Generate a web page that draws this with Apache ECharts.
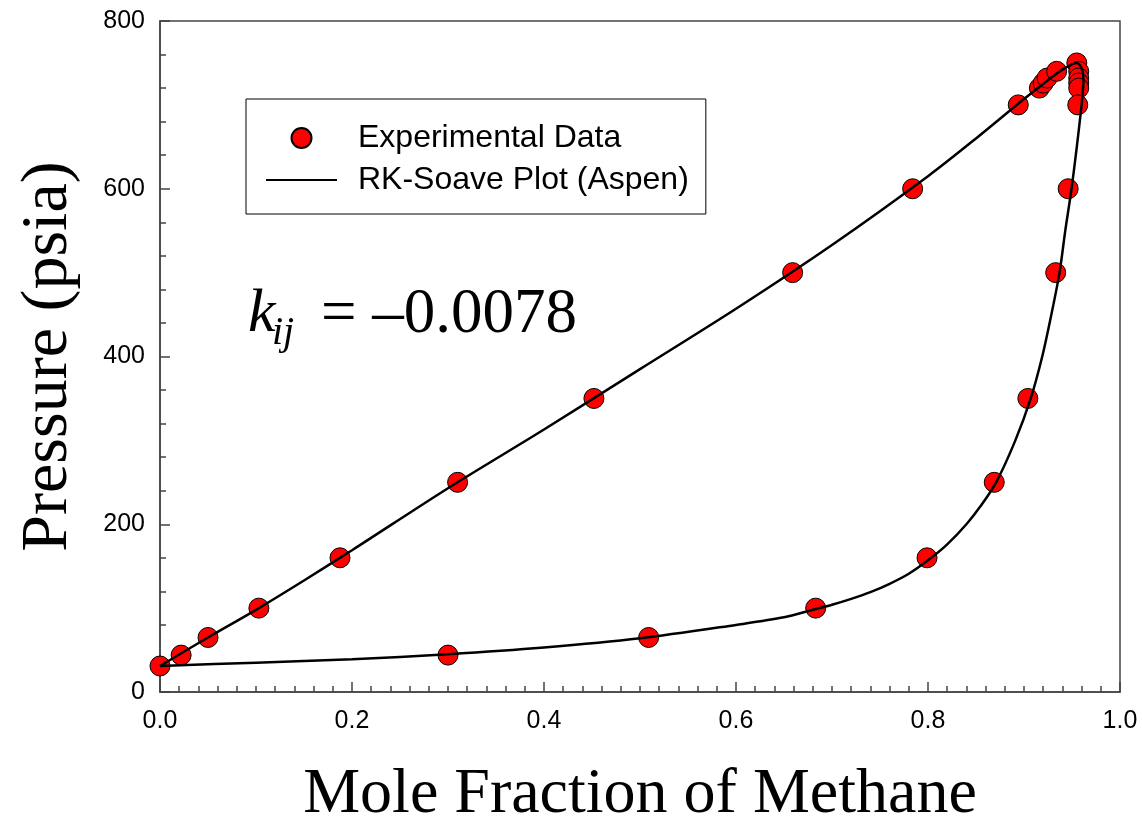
<!DOCTYPE html>
<head>
    <meta charset="utf-8"/>
    <style>
        html,body { height:100%; width:100%; margin:0; padding:0; background:#fff; }
    </style>
</head>
<body>

<div id="chart" style="width: 1142px;height:822px;"></div>

<script src="https://cdn.jsdelivr.net/npm/echarts@6/dist/echarts.min.js"></script>
<script type="text/javascript">

 // experimental points (bubble side then dew side)
 var expX = [0, 0.022, 0.05, 0.103, 0.1875, 0.31, 0.452, 0.659, 0.784, 0.894, 0.916, 0.92, 0.924, 0.934, 0.955,
             0.957, 0.957, 0.957, 0.957, 0.956, 0.946, 0.933, 0.904, 0.869, 0.799, 0.683, 0.509, 0.30];
 var expY = [31, 44, 65, 100, 160, 250, 350, 500, 600, 700, 720, 726, 732, 740, 750,
             740, 732, 726, 720, 700, 600, 500, 350, 250, 160, 100, 65, 44];

 // RK-Soave curve, bubble branch (up to critical point)
 var bubbleX = [0, 0.05, 0.1, 0.15, 0.2, 0.3, 0.4, 0.5, 0.6, 0.7, 0.8, 0.85, 0.9, 0.92, 0.94, 0.955];
 var bubbleY = [31, 65, 98, 133, 169, 243, 313, 385, 457, 533, 615, 660, 707, 725, 742, 750];

 // dew branch (from critical point back down)
 var dewX = [0.960, 0.962, 0.9615, 0.960, 0.955, 0.9495, 0.943, 0.937, 0.9285, 0.919, 0.907, 0.891, 0.871,
             0.855, 0.84, 0.82, 0.8, 0.78, 0.76, 0.74, 0.72, 0.7, 0.68, 0.65, 0.6, 0.5, 0.4, 0.3, 0.2, 0.1, 0];
 var dewY = [744, 730, 720, 700, 650, 600, 550, 500, 450, 400, 350, 300, 250,
             222, 200, 176, 157, 141, 129, 119, 111, 104, 98, 89, 80, 64, 53, 45, 39, 35, 31];

 var xTicks = [0, 0.2, 0.4, 0.6, 0.8, 1.0];
 var yTicks = [0, 200, 400, 600, 800];

 var sans = "'Liberation Sans', Arial, sans-serif";
 var serif = "'Liberation Serif', 'Times New Roman', serif";
 var axisColor = '#444';

 var expData = expX.map(function (x, i) { return [x, expY[i]]; });
 var curveData = bubbleX.map(function (x, i) { return [x, bubbleY[i]]; })
     .concat(dewX.map(function (x, i) { return [x, dewY[i]]; }));

 var myChart = echarts.init(document.getElementById('chart'));

 var option = {
    animation: false,
    grid: {
        left: 160, right: 22, top: 21, bottom: 130,
        outerBoundsMode: 'none',
        show: true,
        borderColor: axisColor,
        borderWidth: 1.5,
        backgroundColor: 'transparent'
    },
    legend: {
        orient: 'vertical',
        left: 246,
        top: 99,
        padding: [23, 17, 18, 19],
        borderColor: '#000',
        borderWidth: 1,
        itemWidth: 71,
        itemHeight: 20,
        itemGap: 10,
        selectedMode: false,
        textStyle: {
            fontFamily: sans,
            fontSize: 32,
            color: '#000',
            lineHeight: 30,
            padding: [0, 0, 0, 16]
        },
        data: [
            { name: 'Experimental Data', icon: 'circle' },
            { name: 'RK-Soave Plot (Aspen)', itemStyle: { opacity: 0 } }
        ]
    },
    xAxis: {
        type: 'value',
        min: xTicks[0],
        max: xTicks[xTicks.length - 1],
        interval: 0.2,
        name: 'Mole Fraction of Methane',
        nameLocation: 'middle',
        nameGap: 71,
        nameTextStyle: { fontFamily: serif, fontSize: 64, color: '#000' },
        axisLine: { lineStyle: { color: axisColor, width: 1.5 } },
        axisTick: { inside: true, length: 10, lineStyle: { color: axisColor, width: 1.5 } },
        minorTick: { show: true, splitNumber: 10, length: 6, lineStyle: { color: axisColor, width: 1.5 } },
        splitLine: { show: false },
        axisLabel: {
            margin: 17,
            fontFamily: sans,
            fontSize: 25,
            color: '#000',
            formatter: function (v) { return v.toFixed(1); }
        }
    },
    yAxis: {
        type: 'value',
        min: yTicks[0],
        max: yTicks[yTicks.length - 1],
        interval: 200,
        name: 'Pressure (psia)',
        nameLocation: 'middle',
        nameGap: 78,
        nameTextStyle: { fontFamily: serif, fontSize: 66, color: '#000' },
        axisLine: { lineStyle: { color: axisColor, width: 1.5 } },
        axisTick: { inside: true, length: 10, lineStyle: { color: axisColor, width: 1.5 } },
        minorTick: { show: true, splitNumber: 5, length: 6, lineStyle: { color: axisColor, width: 1.5 } },
        splitLine: { show: false },
        axisLabel: { margin: 15, fontFamily: sans, fontSize: 25, color: '#000' }
    },
    graphic: [
        { type: 'text', x: 248, y: 315, style: { text: 'k', font: 'italic 62px ' + serif, fill: '#000', verticalAlign: 'middle' } },
        { type: 'text', x: 272, y: 333, style: { text: 'ij', font: 'italic 40px ' + serif, fill: '#000', verticalAlign: 'middle' } },
        { type: 'text', x: 321, y: 315, style: { text: '= \u20130.0078', font: '63px ' + serif, fill: '#000', verticalAlign: 'middle' } }
    ],
    series: [
        {
            name: 'Experimental Data',
            type: 'scatter',
            z: 2,
            symbol: 'circle',
            symbolSize: 20,
            itemStyle: { color: '#ff0000', borderColor: '#000', borderWidth: 1, opacity: 1 },
            data: expData
        },
        {
            name: 'RK-Soave Plot (Aspen)',
            type: 'line',
            z: 3,
            symbol: 'none',
            smooth: 0.3,
            itemStyle: { color: '#000' },
            lineStyle: { color: '#000', width: 2.5 },
            data: curveData
        }
    ]
 };

 myChart.setOption(option);

</script>
</body>
